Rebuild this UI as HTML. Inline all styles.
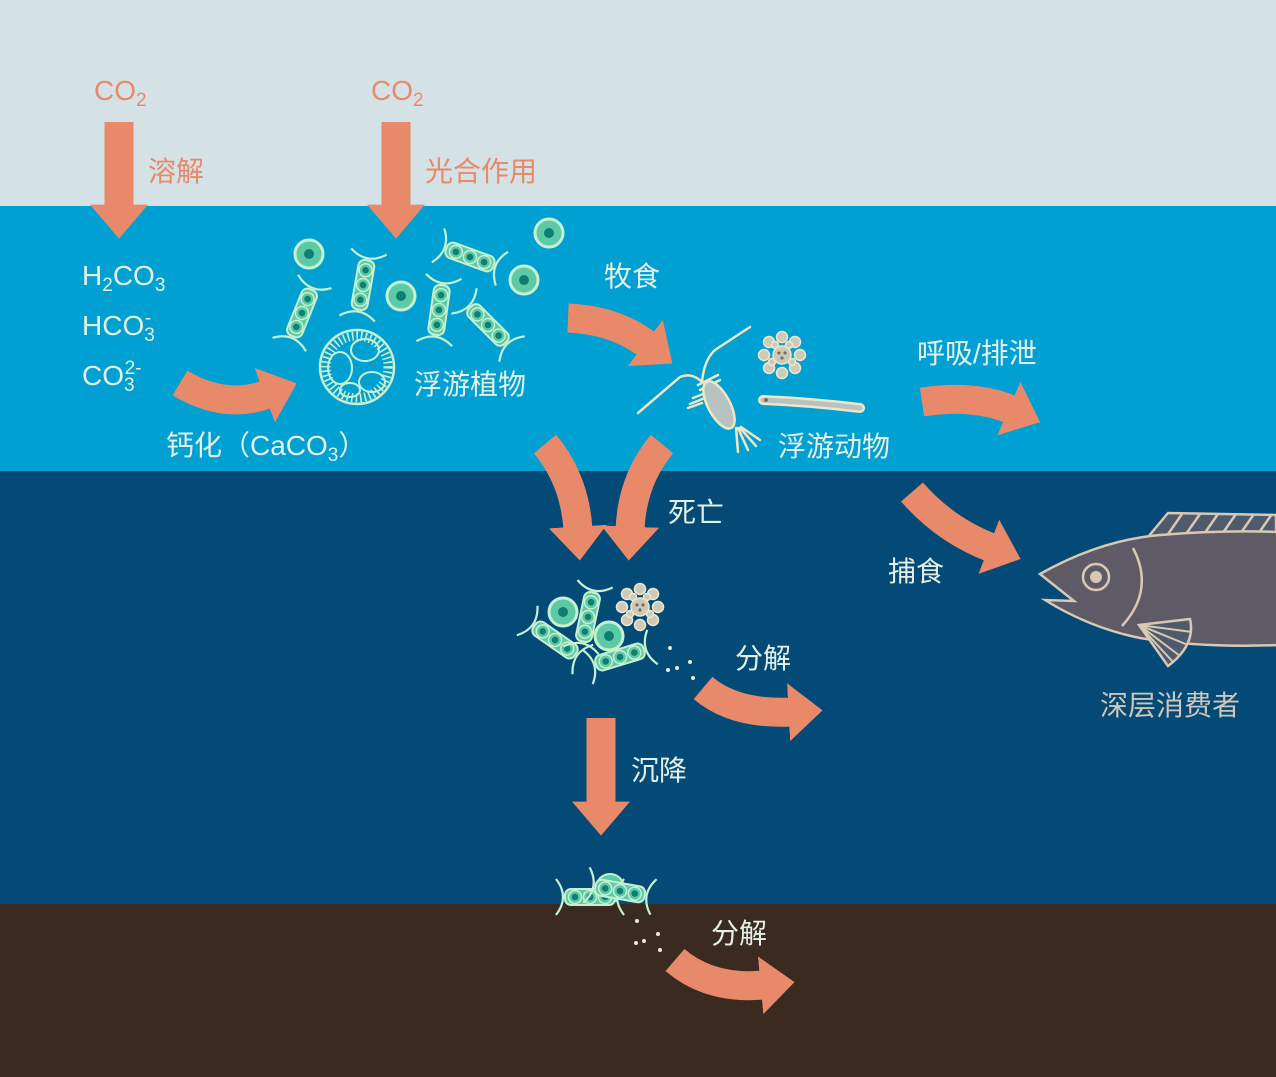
<!DOCTYPE html>
<html><head><meta charset="utf-8"><style>
html,body{margin:0;padding:0;width:1276px;height:1077px;overflow:hidden}
svg{display:block}
text{font-family:"Liberation Sans","Noto Sans CJK SC",sans-serif}
.o{fill:#e8896a}
.w{fill:#e4f0e6}
</style></head><body>
<svg width="1276" height="1077" viewBox="0 0 1276 1077" xmlns="http://www.w3.org/2000/svg">
<defs>
<marker id="ah" markerUnits="userSpaceOnUse" markerWidth="34" markerHeight="58" refX="1" refY="5" viewBox="0 0 10 10" preserveAspectRatio="none" orient="auto"><path d="M0,0 L10,5 L0,10z" fill="#e8896a"/></marker>
<g id="chain">
<path d="M-18,-34 Q0,-20 18,-34 M-18,34 Q0,20 18,34" fill="none" stroke="#c6f0d0" stroke-width="2.2"/>
<rect x="-8" y="-25" width="16" height="50" rx="6" fill="#5cc9a7" stroke="#c6f0d0" stroke-width="2"/>
<circle cx="0" cy="-15" r="6.5" fill="#5cc9a7" stroke="#c6f0d0" stroke-width="1.5"/>
<circle cx="0" cy="0" r="6.5" fill="#5cc9a7" stroke="#c6f0d0" stroke-width="1.5"/>
<circle cx="0" cy="15" r="6.5" fill="#5cc9a7" stroke="#c6f0d0" stroke-width="1.5"/>
<circle cx="0" cy="-15" r="3.3" fill="#0e7f70"/><circle cx="0" cy="0" r="3.3" fill="#0e7f70"/><circle cx="0" cy="15" r="3.3" fill="#0e7f70"/>
</g>
<g id="cell"><circle r="14" fill="#5cc9a7" stroke="#c6f0d0" stroke-width="3"/><circle r="5" fill="#0e7f70"/></g>
<g id="rad">
<g fill="#cfcab8" stroke="#efe8cc" stroke-width="1.5">
<circle cx="0" cy="-18" r="5.5"/><circle cx="13" cy="-13" r="5.5"/><circle cx="18" cy="0" r="5.5"/><circle cx="13" cy="13" r="5.5"/><circle cx="0" cy="18" r="5.5"/><circle cx="-13" cy="13" r="5.5"/><circle cx="-18" cy="0" r="5.5"/><circle cx="-13" cy="-13" r="5.5"/>
<circle cx="7" cy="-10" r="3.5"/><circle cx="-7" cy="-10" r="3.5"/><circle cx="10" cy="7" r="3.5"/><circle cx="-10" cy="7" r="3.5"/>
<circle r="9"/></g>
<circle cx="-3" cy="-2" r="1.6" fill="#7a6a6a"/><circle cx="3" cy="-2" r="1.6" fill="#7a6a6a"/><circle cx="0" cy="3" r="1.6" fill="#7a6a6a"/>
</g>
</defs>
<rect x="0" y="0" width="1276" height="206" fill="#d4e2e6"/>
<rect x="0" y="206" width="1276" height="265" fill="#00a0d2"/>
<rect x="0" y="471" width="1276" height="433" fill="#034a77"/>
<rect x="0" y="904" width="1276" height="173" fill="#3b2a1f"/>

<g fill="none" stroke="#e8896a" stroke-width="29" marker-end="url(#ah)">
<path d="M119,122 V208"/>
<path d="M396,122 V208"/>
<path d="M180,383 Q225,410 268,394"/>
<path d="M568,318 Q615,320 648,345"/>
<path d="M922,402 Q975,394 1012,410"/>
<path d="M545,444 Q575,480 578,530"/>
<path d="M662,444 Q632,480 630,530"/>
<path d="M912,492 Q945,530 992,548"/>
<path d="M703,688 Q735,715 792,712"/>
<path d="M601,718 V805"/>
<path d="M675,960 Q710,990 764,985"/>
</g>

<use href="#cell" x="309" y="254"/><use href="#cell" x="401" y="296"/><use href="#cell" x="549" y="233"/><use href="#cell" x="524" y="280"/>
<use href="#chain" transform="translate(302,313) rotate(22)"/>
<use href="#chain" transform="translate(363,285) rotate(10)"/>
<use href="#chain" transform="translate(470,257) rotate(-70)"/>
<use href="#chain" transform="translate(439,310) rotate(8)"/>
<use href="#chain" transform="translate(488,325) rotate(-45)"/>
<g fill="none" stroke="#c6f0d0">
<circle cx="357" cy="367" r="37" stroke-width="2.5"/>
<circle cx="357" cy="367" r="31" stroke-width="9" stroke-dasharray="1.6 2.8"/>
<ellipse cx="340" cy="368" rx="12" ry="16" stroke-width="2"/>
<ellipse cx="365" cy="350" rx="14" ry="11" stroke-width="2"/>
<ellipse cx="372" cy="382" rx="13" ry="10" stroke-width="2"/>
<ellipse cx="350" cy="390" rx="10" ry="7" stroke-width="2"/>
</g>

<g stroke="#efe6c4" fill="none" stroke-width="2.5" stroke-linecap="round">
<path d="M638,413 L680,377 Q692,372 702,382"/>
<path d="M702,382 Q704,360 715,350 L750,327"/>
<path d="M698,385 L718,375 M700,390 L720,380 M693,398 L708,392 M690,404 L705,398 M688,408 L702,403"/>
<path d="M736,428 L738,452 M738,428 L748,450 M740,428 L756,446 M741,427 L760,440"/>
</g>
<ellipse cx="719" cy="405" rx="11" ry="26" transform="rotate(-28 719 405)" fill="#b7c3c0" stroke="#efe6c4" stroke-width="2.5"/>
<use href="#rad" x="782" y="355"/>
<path d="M763,400 Q810,402 860,408" stroke="#efe6c4" stroke-width="10" stroke-linecap="round" fill="none"/>
<path d="M763,400 Q810,402 860,408" stroke="#b7c3c0" stroke-width="5" stroke-linecap="round" fill="none"/>
<circle cx="766" cy="400" r="2" fill="#7a6a6a"/>

<use href="#chain" transform="translate(555,640) rotate(-55)"/>
<use href="#chain" transform="translate(588,617) rotate(12)"/>
<use href="#chain" transform="translate(620,657) rotate(-107)"/>
<use href="#cell" x="563" y="612"/><use href="#cell" x="609" y="636"/>
<use href="#rad" x="640" y="607"/>
<g fill="#e4ecd8"><circle cx="670" cy="648" r="2"/><circle cx="690" cy="662" r="2"/><circle cx="668" cy="670" r="2"/><circle cx="677" cy="668" r="2"/><circle cx="693" cy="678" r="2"/>
<circle cx="637" cy="921" r="2"/><circle cx="658" cy="934" r="2"/><circle cx="636" cy="943" r="2"/><circle cx="644" cy="941" r="2"/><circle cx="660" cy="950" r="2"/></g>

<circle cx="610" cy="888" r="14" fill="#5cc9a7" stroke="#c6f0d0" stroke-width="2"/>
<use href="#chain" transform="translate(590,897) rotate(-90)"/>
<use href="#chain" transform="translate(620,891) rotate(-80)"/>

<path d="M1148,537 L1168,513 L1276,515 L1276,537 Z" fill="#4f5a6c" stroke="#d8c8b4" stroke-width="2.5"/>
<g stroke="#d8c8b4" stroke-width="2.5"><path d="M1166,537 L1182,514 M1184,537 L1200,514 M1202,537 L1218,514 M1220,537 L1236,514 M1238,537 L1254,514 M1256,537 L1272,514"/></g>
<path d="M1040,574 Q1100,540 1160,535 Q1220,530 1280,532 L1280,645 Q1200,648 1140,638 Q1090,628 1045,600 L1074,601 Z" fill="#5f5b66" stroke="#d8c8b4" stroke-width="2.5"/>
<circle cx="1096" cy="577" r="13" fill="none" stroke="#d8c8b4" stroke-width="2.5"/>
<circle cx="1096" cy="577" r="6" fill="#d8c8b4"/>
<path d="M1133,548 Q1155,590 1122,626" fill="none" stroke="#d8c8b4" stroke-width="2.5"/>
<path d="M1139,625 L1190,619 Q1196,645 1168,666 Z" fill="#4f5a6c" stroke="#d8c8b4" stroke-width="2.5"/>
<g stroke="#d8c8b4" stroke-width="2"><path d="M1139,625 L1192,632 M1139,625 L1188,645 M1139,625 L1180,656 M1139,625 L1173,662"/></g>

<g font-size="28">
<text x="94" y="100" class="o">CO<tspan font-size="19" dy="6">2</tspan></text>
<text x="371" y="100" class="o">CO<tspan font-size="19" dy="6">2</tspan></text>
<text x="148" y="181" class="o">溶解</text>
<text x="425" y="181" class="o">光合作用</text>
<text x="82" y="285" class="w">H<tspan font-size="19" dy="6">2</tspan><tspan dy="-6">CO</tspan><tspan font-size="19" dy="6">3</tspan></text>
<text x="82" y="335" class="w">HCO<tspan font-size="19" dy="6">3</tspan><tspan font-size="19" dx="-10" dy="-17">-</tspan></text>
<text x="82" y="385" class="w">CO<tspan font-size="19" dy="6">3</tspan><tspan font-size="19" dx="-10" dy="-17">2-</tspan></text>
<text x="166" y="455" class="w">钙化（CaCO<tspan font-size="19" dy="6">3</tspan><tspan dy="-6">）</tspan></text>
<text x="414" y="394" class="w">浮游植物</text>
<text x="604" y="286" class="w">牧食</text>
<text x="778" y="456" class="w">浮游动物</text>
<text x="917" y="363" class="w">呼吸/排泄</text>
<text x="668" y="522" class="w">死亡</text>
<text x="888" y="581" class="w">捕食</text>
<text x="735" y="668" class="w">分解</text>
<text x="631" y="780" class="w">沉降</text>
<text x="711" y="943" class="w">分解</text>
<text x="1100" y="715" fill="#cfc6ba">深层消费者</text>
</g>
</svg>
</body></html>
